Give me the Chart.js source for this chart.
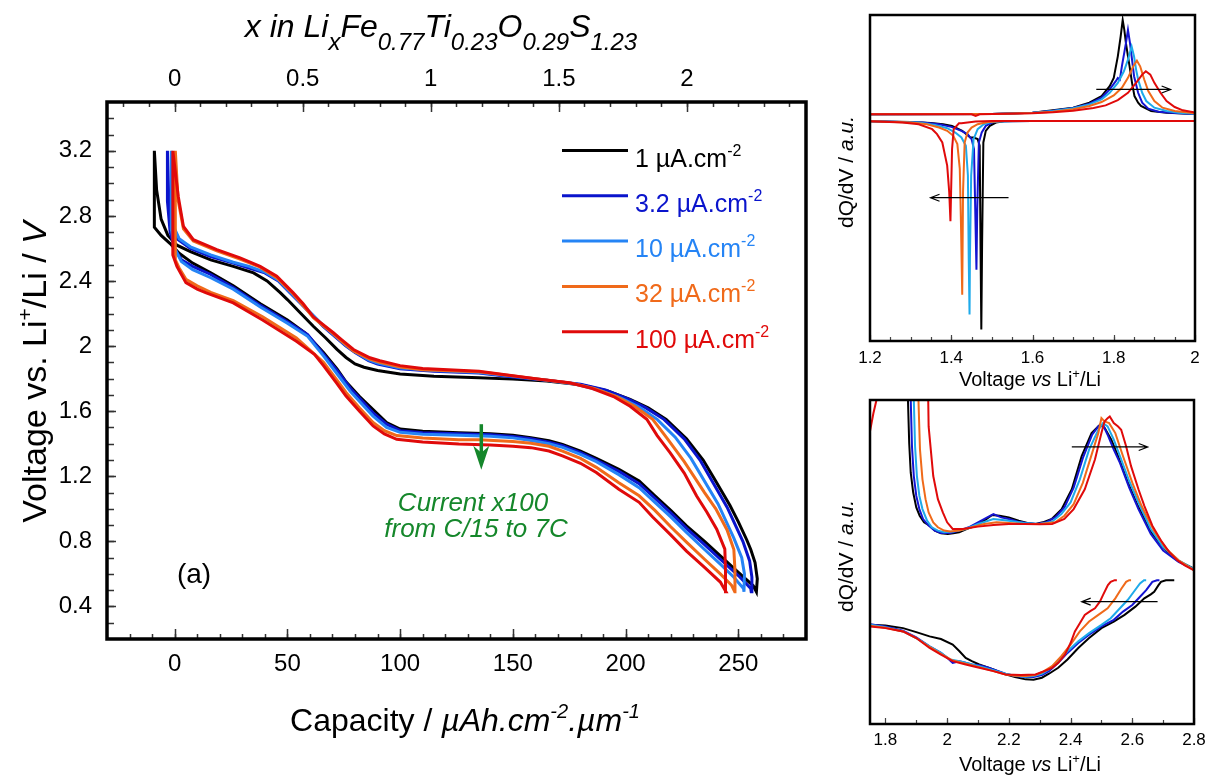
<!DOCTYPE html>
<html>
<head>
<meta charset="utf-8">
<script src="https://cdn.jsdelivr.net/npm/chart.js@4.4.0/dist/chart.umd.min.js"></script>
<style>
body{margin:0;background:#fff}
#wrap{position:relative;width:1214px;height:779px;overflow:hidden}
canvas{position:absolute}
</style>
</head>
<body>
<div id="wrap">
<canvas id="ca" width="830" height="779" style="left:0;top:0"></canvas>
<canvas id="cb" width="384" height="395" style="left:830px;top:0"></canvas>
<canvas id="cc" width="384" height="384" style="left:830px;top:395px"></canvas>
</div>
<script>
const FONT = '"Liberation Sans", Arial, sans-serif'

// legend / series
const seriesLabels = ["1 µA.cm", "3.2 µA.cm", "10 µA.cm", "32 µA.cm", "100 µA.cm"]
const colorsA = ["#000000", "#0a14cc", "#2584f5", "#f06a1a", "#e00a0a"]
const colorsBC = ["#000000", "#1414d2", "#1eaaea", "#f06a1a", "#e00a0a"]

// panel (a) axes
const capTicks = [0, 50, 100, 150, 200, 250]
const liTicks = [0, 0.5, 1, 1.5, 2]
const voltTicks = [0.4, 0.8, 1.2, 1.6, 2, 2.4, 2.8, 3.2]
const capPerLi = 113.6

// panel (a) : [capacity, voltage] discharge then charge, per current
const dis1 = [[-9,3.2],[-9,2.73],[-6,2.68],[-2,2.63],[2,2.57],[8,2.51],[16,2.45],[26,2.37],[38,2.26],[50,2.16],[58,2.08],[66,1.96],[72,1.86],[76,1.78],[82,1.69],[88,1.61],[94,1.53],[100,1.49],[110,1.476],[126,1.468],[140,1.462],[150,1.452],[158,1.437],[166,1.418],[172,1.396],[180,1.355],[187,1.31],[197,1.243],[206,1.171],[213,1.079],[220,0.99],[227,0.895],[235,0.8],[242,0.711],[250,0.61],[256.6,0.527],[258,0.49]]
const cha1 = [[258.4,0.57],[257.4,0.67],[255.5,0.75],[253.7,0.81],[250,0.92],[246.3,1.02],[240,1.17],[234.4,1.3],[227,1.43],[218,1.55],[210,1.62],[202,1.672],[192,1.725],[180,1.762],[165,1.785],[150,1.797],[135,1.806],[115,1.815],[100,1.828],[90,1.85],[84,1.87],[80,1.89],[76,1.93],[72,1.98],[67,2.05],[61.5,2.122],[56,2.2],[50,2.286],[46.7,2.33],[41,2.4],[35,2.45],[26,2.49],[16,2.53],[7,2.58],[1,2.62],[-3,2.68],[-6,2.78],[-8,2.96],[-9,3.2]]
const dis2 = [[-3.2,3.2],[-3.2,2.89],[-2,2.7],[0,2.6],[3,2.53],[8,2.49],[16,2.44],[26,2.36],[38,2.25],[50,2.15],[59,2.07],[66,1.95],[72,1.85],[78,1.74],[88,1.59],[94,1.52],[100,1.48],[110,1.468],[126,1.461],[140,1.455],[150,1.445],[158,1.43],[166,1.41],[172,1.388],[180,1.345],[187,1.3],[197,1.23],[206,1.155],[213,1.065],[220,0.975],[227,0.88],[235,0.78],[242,0.69],[250,0.59],[255.5,0.51],[255.7,0.49]]
const cha2 = [[256,0.58],[255,0.68],[252,0.8],[245,1.01],[233,1.3],[226,1.43],[217,1.55],[209,1.62],[201,1.675],[191,1.73],[180,1.765],[165,1.79],[150,1.81],[135,1.835],[115,1.845],[100,1.86],[90,1.89],[86,1.91],[80,1.96],[76,2.0],[71,2.06],[66,2.12],[61,2.19],[56,2.26],[51,2.33],[46,2.4],[40,2.45],[33,2.48],[26,2.51],[16,2.55],[7,2.6],[1,2.66],[-1,2.72],[-2.5,2.85],[-3.2,3.2]]
const dis3 = [[-1.5,3.2],[-1.5,2.72],[0,2.6],[3,2.52],[8,2.47],[16,2.42],[26,2.35],[38,2.24],[50,2.14],[59,2.06],[66,1.94],[72,1.83],[78,1.72],[88,1.57],[94,1.5],[100,1.47],[110,1.458],[126,1.452],[140,1.446],[150,1.436],[158,1.42],[166,1.4],[172,1.378],[180,1.335],[187,1.29],[197,1.21],[206,1.13],[213,1.04],[220,0.95],[227,0.855],[235,0.75],[242,0.66],[248,0.58],[252.3,0.51],[252.5,0.49]]
const cha3 = [[252.7,0.6],[251.5,0.7],[248,0.82],[241,1.03],[229,1.31],[222,1.44],[214,1.55],[206,1.625],[198,1.68],[188,1.73],[178,1.765],[165,1.79],[150,1.815],[135,1.838],[115,1.85],[100,1.866],[90,1.895],[86,1.915],[80,1.965],[76,2.005],[71,2.065],[66,2.125],[61,2.195],[56,2.265],[51,2.335],[46,2.405],[40,2.455],[33,2.49],[26,2.515],[16,2.56],[7,2.61],[2,2.66],[0,2.72],[-1,2.85],[-1.5,3.2]]
const dis4 = [[0.3,3.2],[0.3,2.53],[2,2.48],[5,2.41],[10,2.37],[16,2.33],[26,2.28],[39,2.18],[54,2.05],[62,1.95],[66,1.9],[72,1.79],[76,1.715],[82,1.62],[88,1.53],[93,1.48],[98.5,1.45],[110,1.435],[126,1.425],[135,1.424],[150,1.413],[158,1.403],[166,1.384],[172,1.355],[180,1.31],[187,1.255],[197,1.16],[206,1.08],[213,0.99],[220,0.89],[227,0.795],[235,0.69],[242,0.6],[247,0.53],[248.4,0.49]]
const cha4 = [[248.5,0.62],[248,0.75],[245,0.87],[240,1.0],[235,1.1],[226,1.29],[218,1.44],[212,1.55],[204,1.63],[196,1.69],[186,1.74],[176,1.772],[160,1.8],[135,1.842],[110,1.855],[100,1.872],[91,1.9],[86.6,1.92],[79.3,1.97],[74,2.03],[70.4,2.075],[66,2.125],[61.5,2.175],[57,2.25],[52.6,2.32],[45.3,2.42],[37.9,2.485],[29,2.535],[18.7,2.585],[8.3,2.645],[3.9,2.72],[1.5,2.9],[0.3,3.2]]
const dis5 = [[-0.8,3.2],[-0.8,2.56],[1,2.49],[5,2.39],[10,2.35],[14,2.327],[26,2.265],[39,2.16],[54,2.03],[62,1.95],[66,1.88],[72,1.77],[76,1.693],[82,1.6],[88,1.509],[93,1.46],[98.5,1.427],[110,1.41],[126,1.398],[140,1.392],[150,1.385],[158,1.376],[166,1.355],[172,1.325],[180,1.28],[187,1.223],[197,1.12],[206,1.04],[212,0.95],[220,0.84],[227,0.74],[235,0.64],[242,0.55],[244.5,0.49]]
const cha5 = [[244.3,0.62],[244,0.752],[240.4,0.875],[236,0.98],[231.5,1.079],[226,1.22],[219.7,1.345],[214,1.45],[209.4,1.55],[202,1.63],[194.6,1.69],[185,1.74],[175,1.775],[160,1.8],[135,1.846],[110,1.862],[100,1.88],[91,1.91],[86.6,1.928],[79.3,1.979],[74,2.04],[70.4,2.082],[66,2.13],[61.5,2.18],[57,2.26],[52.6,2.327],[45.3,2.429],[37.9,2.49],[29,2.542],[18.7,2.593],[8.3,2.654],[3.9,2.735],[1.6,2.92],[-0.8,3.2]]

// panel (b) : dQ/dV around the plateaus [V, a.u.]
const voltTicksB = [1.2, 1.4, 1.6, 1.8, 2]
const chgB1 = [[1.2,6.85],[1.5,6.86],[1.6,6.9],[1.65,6.97],[1.7,7.05],[1.74,7.2],[1.77,7.4],[1.79,7.7],[1.8,7.95],[1.81,8.6],[1.817,9.2],[1.822,9.7],[1.826,9.4],[1.83,9.0],[1.835,8.6],[1.839,8.3],[1.845,7.8],[1.851,7.4],[1.86,7.2],[1.867,7.1],[1.892,6.95],[1.93,6.9],[2.0,6.86]]
const chgB2 = [[1.2,6.85],[1.5,6.86],[1.6,6.9],[1.65,6.96],[1.7,7.04],[1.74,7.17],[1.77,7.35],[1.79,7.6],[1.805,7.85],[1.81,7.95],[1.815,7.9],[1.82,8.3],[1.83,9.0],[1.835,9.4],[1.84,9.0],[1.845,8.5],[1.85,8.0],[1.86,7.5],[1.87,7.2],[1.885,7.02],[1.91,6.93],[1.95,6.89],[2.0,6.86]]
const chgB3 = [[1.2,6.85],[1.5,6.86],[1.6,6.9],[1.65,6.95],[1.7,7.03],[1.74,7.15],[1.77,7.3],[1.79,7.5],[1.81,7.8],[1.825,8.15],[1.835,8.5],[1.844,8.9],[1.85,8.6],[1.855,8.2],[1.86,7.9],[1.87,7.5],[1.88,7.25],[1.9,7.05],[1.93,6.95],[1.96,6.9],[2.0,6.87]]
const chgB4 = [[1.2,6.85],[1.5,6.86],[1.6,6.89],[1.65,6.93],[1.7,7.0],[1.74,7.1],[1.77,7.22],[1.8,7.42],[1.82,7.65],[1.835,7.95],[1.848,8.3],[1.857,8.47],[1.865,8.3],[1.875,7.9],[1.885,7.55],[1.9,7.25],[1.92,7.05],[1.95,6.95],[2.0,6.88]]
const chgB5 = [[1.2,6.85],[1.45,6.85],[1.46,6.8],[1.47,6.85],[1.6,6.88],[1.65,6.91],[1.7,6.96],[1.75,7.04],[1.78,7.12],[1.81,7.28],[1.835,7.5],[1.855,7.8],[1.87,8.05],[1.879,8.15],[1.89,8.05],[1.9,7.8],[1.915,7.5],[1.93,7.25],[1.95,7.07],[1.97,6.97],[2.0,6.9]]
const disB1 = [[2.0,6.65],[1.6,6.65],[1.53,6.64],[1.51,6.6],[1.495,6.5],[1.485,6.35],[1.479,6.0],[1.476,3.0],[1.474,0.35],[1.472,3.0],[1.47,5.9],[1.465,6.1],[1.455,6.15],[1.447,6.15],[1.427,6.35],[1.402,6.5],[1.38,6.55],[1.35,6.59],[1.3,6.62],[1.2,6.64]]
const disB2 = [[2.0,6.65],[1.6,6.65],[1.52,6.64],[1.5,6.6],[1.485,6.5],[1.475,6.3],[1.468,6.0],[1.464,4.0],[1.462,2.15],[1.459,4.0],[1.456,5.8],[1.45,6.1],[1.44,6.25],[1.425,6.35],[1.4,6.47],[1.37,6.55],[1.33,6.6],[1.2,6.64]]
const disB3 = [[2.0,6.65],[1.55,6.65],[1.5,6.62],[1.48,6.55],[1.465,6.4],[1.455,6.1],[1.449,5.0],[1.446,2.5],[1.445,0.8],[1.443,2.5],[1.441,5.0],[1.436,5.9],[1.425,6.15],[1.41,6.3],[1.39,6.43],[1.36,6.53],[1.32,6.6],[1.2,6.64]]
const disB4 = [[2.0,6.65],[1.53,6.65],[1.49,6.62],[1.465,6.55],[1.45,6.45],[1.44,6.3],[1.433,6.0],[1.429,4.5],[1.427,1.4],[1.424,3.5],[1.421,5.2],[1.415,5.95],[1.405,6.2],[1.39,6.35],[1.37,6.45],[1.34,6.55],[1.3,6.6],[1.2,6.64]]
const disB5 = [[2.0,6.65],[1.5,6.65],[1.46,6.63],[1.44,6.6],[1.425,6.58],[1.419,6.58],[1.406,6.4],[1.402,5.8],[1.398,3.62],[1.395,4.5],[1.39,5.3],[1.378,6.0],[1.365,6.25],[1.353,6.4],[1.32,6.55],[1.28,6.6],[1.2,6.64]]

// panel (c) : dQ/dV, zoom on the sloping parts [V, a.u.]
const voltTicksC = [1.8, 2, 2.2, 2.4, 2.6, 2.8]
const chgC1 = [[1.871,12],[1.873,9.8],[1.877,8.5],[1.882,7.6],[1.89,7.0],[1.9,6.55],[1.911,6.3],[1.925,6.1],[1.943,6.0],[1.96,5.85],[1.98,5.77],[2.002,5.75],[2.02,5.77],[2.039,5.8],[2.065,5.9],[2.093,6.0],[2.12,6.15],[2.146,6.32],[2.17,6.3],[2.2,6.25],[2.232,6.15],[2.26,6.08],[2.286,6.05],[2.31,6.1],[2.339,6.2],[2.371,6.5],[2.404,7.1],[2.436,8.1],[2.468,8.8],[2.495,9.05],[2.511,8.95],[2.532,8.6],[2.554,8.1],[2.586,7.3],[2.618,6.6],[2.661,5.8],[2.704,5.3],[2.746,4.95],[2.8,4.7]]
const chgC2 = [[1.88,12],[1.882,9.8],[1.886,8.4],[1.892,7.5],[1.9,6.9],[1.91,6.5],[1.922,6.2],[1.94,6.0],[1.96,5.85],[1.98,5.78],[2.01,5.78],[2.04,5.85],[2.07,5.95],[2.1,6.1],[2.13,6.25],[2.15,6.35],[2.175,6.25],[2.2,6.2],[2.23,6.12],[2.26,6.07],[2.29,6.05],[2.32,6.1],[2.35,6.25],[2.38,6.55],[2.41,7.15],[2.44,8.05],[2.47,8.75],[2.49,9.0],[2.505,9.05],[2.52,8.75],[2.54,8.3],[2.56,7.9],[2.59,7.15],[2.62,6.5],[2.66,5.75],[2.7,5.25],[2.75,4.9],[2.8,4.68]]
const chgC3 = [[1.89,12],[1.892,9.8],[1.896,8.4],[1.902,7.5],[1.91,6.9],[1.92,6.5],[1.935,6.15],[1.95,5.95],[1.97,5.85],[1.99,5.8],[2.02,5.82],[2.06,5.9],[2.1,6.05],[2.15,6.2],[2.2,6.15],[2.25,6.08],[2.3,6.05],[2.34,6.12],[2.37,6.35],[2.4,6.7],[2.43,7.4],[2.46,8.3],[2.49,8.9],[2.505,9.1],[2.52,9.0],[2.54,8.6],[2.56,8.1],[2.59,7.35],[2.62,6.7],[2.66,5.9],[2.7,5.35],[2.75,4.95],[2.8,4.68]]
const chgC4 = [[1.905,12],[1.907,9.8],[1.912,8.3],[1.92,7.4],[1.93,6.8],[1.94,6.4],[1.955,6.1],[1.97,5.95],[1.99,5.85],[2.01,5.82],[2.04,5.85],[2.08,5.95],[2.12,6.05],[2.16,6.1],[2.2,6.08],[2.25,6.05],[2.3,6.05],[2.35,6.1],[2.38,6.3],[2.41,6.65],[2.44,7.3],[2.47,8.2],[2.49,8.8],[2.5,9.25],[2.51,9.15],[2.525,9.1],[2.545,8.8],[2.57,8.1],[2.6,7.3],[2.63,6.6],[2.67,5.85],[2.71,5.3],[2.75,4.95],[2.8,4.65]]
const chgC5 = [[1.75,8.85],[1.761,9.4],[1.771,9.8],[1.776,12],[1.935,12],[1.94,9.0],[1.955,7.5],[1.97,6.8],[1.986,6.4],[2.0,6.1],[2.018,5.9],[2.05,5.9],[2.1,5.97],[2.15,6.02],[2.2,6.05],[2.25,6.05],[2.3,6.04],[2.34,6.05],[2.38,6.2],[2.41,6.5],[2.446,7.1],[2.479,8.0],[2.5,8.8],[2.51,9.15],[2.52,9.25],[2.527,9.3],[2.54,9.1],[2.554,9.0],[2.564,8.9],[2.58,8.4],[2.596,7.8],[2.62,7.1],[2.639,6.6],[2.665,6.0],[2.693,5.55],[2.72,5.2],[2.746,4.95],[2.77,4.8],[2.8,4.65]]
const disC1 = [[1.75,3.0],[1.8,2.98],[1.857,2.9],[1.9,2.78],[1.943,2.65],[1.98,2.57],[2.018,2.4],[2.04,2.2],[2.06,2.0],[2.08,1.9],[2.104,1.8],[2.15,1.65],[2.189,1.5],[2.22,1.42],[2.254,1.35],[2.28,1.34],[2.307,1.4],[2.33,1.52],[2.36,1.7],[2.39,1.95],[2.425,2.3],[2.46,2.6],[2.5,2.9],[2.54,3.1],[2.575,3.3],[2.61,3.55],[2.639,3.8],[2.66,3.92],[2.671,4.0],[2.685,4.2],[2.693,4.3],[2.709,4.35],[2.736,4.35]]
const disC2 = [[1.75,3.02],[1.8,2.95],[1.857,2.82],[1.9,2.62],[1.943,2.35],[1.98,2.15],[2.0,2.0],[2.018,1.85],[2.04,1.9],[2.06,1.85],[2.08,1.8],[2.104,1.78],[2.13,1.72],[2.15,1.65],[2.189,1.52],[2.22,1.45],[2.254,1.42],[2.28,1.42],[2.307,1.48],[2.33,1.6],[2.36,1.85],[2.39,2.15],[2.425,2.45],[2.46,2.7],[2.5,2.95],[2.54,3.15],[2.57,3.4],[2.6,3.6],[2.625,3.85],[2.645,4.05],[2.665,4.3],[2.68,4.35],[2.688,4.35]]
const disC3 = [[1.75,3.0],[1.8,2.93],[1.857,2.8],[1.9,2.6],[1.943,2.35],[1.98,2.15],[2.01,1.95],[2.04,1.9],[2.06,1.85],[2.104,1.75],[2.15,1.63],[2.189,1.52],[2.22,1.46],[2.254,1.43],[2.28,1.45],[2.307,1.52],[2.33,1.65],[2.36,1.9],[2.39,2.2],[2.425,2.5],[2.46,2.75],[2.5,3.0],[2.53,3.2],[2.56,3.5],[2.585,3.75],[2.605,4.0],[2.625,4.25],[2.638,4.35],[2.645,4.35]]
const disC4 = [[1.75,2.97],[1.8,2.91],[1.857,2.8],[1.9,2.6],[1.943,2.33],[1.98,2.12],[2.018,1.92],[2.06,1.82],[2.104,1.72],[2.15,1.6],[2.189,1.5],[2.22,1.46],[2.254,1.45],[2.286,1.48],[2.31,1.58],[2.34,1.75],[2.37,2.05],[2.4,2.4],[2.43,2.8],[2.46,3.1],[2.49,3.3],[2.52,3.5],[2.545,3.8],[2.565,4.1],[2.58,4.3],[2.59,4.35],[2.596,4.35]]
const disC5 = [[1.75,2.95],[1.8,2.9],[1.857,2.8],[1.9,2.6],[1.943,2.3],[1.98,2.1],[2.018,1.9],[2.06,1.8],[2.104,1.7],[2.15,1.6],[2.189,1.5],[2.24,1.48],[2.286,1.5],[2.31,1.58],[2.34,1.7],[2.36,1.85],[2.382,2.1],[2.4,2.45],[2.414,2.8],[2.43,3.05],[2.446,3.3],[2.465,3.42],[2.479,3.5],[2.495,3.7],[2.505,3.9],[2.521,4.2],[2.53,4.3],[2.543,4.35],[2.55,4.35]]

// arrows in data units: [x1, y1, x2, y2]
const arrowA = [136, 1.52, 136, 1.24]
const arrowsB = [[1.757, 7.6, 1.94, 7.6], [1.541, 4.33, 1.349, 4.33]]
const arrowsC = [[2.404, 8.38, 2.65, 8.38], [2.682, 3.7, 2.436, 3.7]]

const N = s => s + "px " + FONT
const I = s => "italic " + s + "px " + FONT

function rich(ctx, parts, x, y, align) {
    let w = 0
    parts.forEach(p => { ctx.font = p[1]; w += ctx.measureText(p[0]).width })
    let cx = align == "center" ? x - w / 2 : x
    ctx.textAlign = "left"
    ctx.textBaseline = "alphabetic"
    parts.forEach(p => {
        ctx.font = p[1]
        ctx.fillText(p[0], cx, y + (p[2] || 0))
        cx += ctx.measureText(p[0]).width
    })
}

function richUp(ctx, parts, x, y) {
    ctx.save()
    ctx.translate(x, y)
    ctx.rotate(-Math.PI / 2)
    rich(ctx, parts, 0, 0, "center")
    ctx.restore()
}

function steps(a, b, s) {
    const out = []
    for (let v = a; v <= b + 1e-9; v += s) out.push(+v.toFixed(3))
    return out
}

function inTicks(ctx, scale, area, values, len, side) {
    ctx.beginPath()
    values.forEach(v => {
        const p = Math.round(scale.getPixelForValue(v)) + 0.5
        if (side == "bottom") { ctx.moveTo(p, area.bottom); ctx.lineTo(p, area.bottom - len) }
        if (side == "top") { ctx.moveTo(p, area.top); ctx.lineTo(p, area.top + len) }
        if (side == "left") { ctx.moveTo(area.left, p); ctx.lineTo(area.left + len, p) }
    })
    ctx.stroke()
}

function arrowLine(ctx, x1, y1, x2, y2, head, half) {
    const a = Math.atan2(y2 - y1, x2 - x1)
    ctx.beginPath()
    ctx.moveTo(x1, y1); ctx.lineTo(x2, y2)
    ctx.moveTo(x2 - head * Math.cos(a) + half * Math.sin(a), y2 - head * Math.sin(a) - half * Math.cos(a))
    ctx.lineTo(x2, y2)
    ctx.lineTo(x2 - head * Math.cos(a) - half * Math.sin(a), y2 - head * Math.sin(a) + half * Math.cos(a))
    ctx.stroke()
}

function setTicks(list) {
    return s => { s.ticks = list.map(v => ({ value: v })) }
}
const fmt = v => String(Math.round(v * 100) / 100)

const decorA = {
    id: "decorA",
    afterDraw(chart) {
        const ctx = chart.ctx, area = chart.chartArea, sc = chart.scales
        ctx.save()
        ctx.strokeStyle = "#333"
        ctx.lineWidth = 1.5
        inTicks(ctx, sc.x, area, steps(-20, 270, 10), 5, "bottom")
        inTicks(ctx, sc.x, area, capTicks, 10, "bottom")
        inTicks(ctx, sc.x2, area, steps(-0.2, 2.4, 0.1), 5, "top")
        inTicks(ctx, sc.x2, area, liTicks, 10, "top")
        inTicks(ctx, sc.y, area, steps(0.3, 3.4, 0.1), 7, "left")
        inTicks(ctx, sc.y, area, voltTicks, 9, "left")
        ctx.strokeStyle = "#000"
        ctx.lineWidth = 3.5
        ctx.strokeRect(area.left, area.top, area.right - area.left, area.bottom - area.top)

        ctx.fillStyle = "#000"
        rich(ctx, [["x in Li", I(32)], ["x", I(24), 13], ["Fe", I(32)], ["0.77", I(24), 13], ["Ti", I(32)], ["0.23", I(24), 13], ["O", I(32)], ["0.29", I(24), 13], ["S", I(32)], ["1.23", I(24), 13]], 441, 37, "center")
        rich(ctx, [["Capacity / ", N(32)], ["µAh.cm", I(32)], ["-2", I(20), -13], [".µm", I(32)], ["-1", I(20), -13]], 465, 731, "center")
        richUp(ctx, [["Voltage vs. Li", N(34)], ["+", N(21), -14], ["/Li / ", N(34)], ["V", I(34)]], 46, 372)
        rich(ctx, [["(a)", N(28)]], 194, 583, "center")

        // legend
        seriesLabels.forEach((lab, i) => {
            const y = 150.5 + i * 45.3
            ctx.strokeStyle = colorsA[i]
            ctx.lineWidth = 3
            ctx.beginPath(); ctx.moveTo(562, y); ctx.lineTo(628, y); ctx.stroke()
            ctx.fillStyle = colorsA[i]
            rich(ctx, [[lab, N(25)], ["-2", N(16), -11]], 635, y + 16, "left")
        })

        // current arrow + note
        const gx = sc.x.getPixelForValue(arrowA[0])
        const gy1 = sc.y.getPixelForValue(arrowA[1]), gy2 = sc.y.getPixelForValue(arrowA[3])
        ctx.strokeStyle = "#15872b"
        ctx.fillStyle = "#15872b"
        ctx.lineWidth = 3.5
        ctx.beginPath(); ctx.moveTo(gx, gy1); ctx.lineTo(gx, gy2 - 14); ctx.stroke()
        ctx.beginPath()
        ctx.moveTo(gx, gy2); ctx.lineTo(gx - 8, gy2 - 24); ctx.lineTo(gx, gy2 - 17); ctx.lineTo(gx + 8, gy2 - 24)
        ctx.closePath(); ctx.fill()
        rich(ctx, [["Current x100", I(26)]], 473, 511, "center")
        rich(ctx, [["from C/15 to 7C", I(26)]], 476, 537, "center")
        ctx.restore()
    }
}

function decorSmall(name, minor, major, arrows, label, yTitleY, xTitleY) {
    return {
        id: "decor" + name,
        afterDraw(chart) {
            const ctx = chart.ctx, area = chart.chartArea, sc = chart.scales
            ctx.save()
            ctx.strokeStyle = "#444"
            ctx.lineWidth = 1.2
            inTicks(ctx, sc.x, area, minor, 4, "bottom")
            inTicks(ctx, sc.x, area, major, 6, "bottom")
            ctx.strokeStyle = "#000"
            ctx.lineWidth = 2.5
            ctx.strokeRect(area.left, area.top, area.right - area.left, area.bottom - area.top)
            ctx.lineWidth = 1.2
            arrows.forEach(a => {
                arrowLine(ctx, sc.x.getPixelForValue(a[0]), sc.y.getPixelForValue(a[1]),
                    sc.x.getPixelForValue(a[2]), sc.y.getPixelForValue(a[3]), 9, 3.5)
            })
            ctx.fillStyle = "#000"
            rich(ctx, [["Voltage ", N(20)], ["vs", I(20)], [" Li", N(20)], ["+", N(13), -8], ["/Li", N(20)]], 200, xTitleY, "center")
            richUp(ctx, [["dQ/dV / ", N(21)], ["a.u.", I(21)]], 23, yTitleY)
            rich(ctx, [label], label[2], label[3], "center")
            ctx.restore()
        }
    }
}

function loop(d, c) { return d.concat(c).map(p => ({ x: p[0], y: p[1] })) }
function pts(a) { return a.map(p => ({ x: p[0], y: p[1] })) }

const line = (data, color, w, i) => ({
    data: data, showLine: true, borderColor: color, borderWidth: w,
    pointRadius: 0, tension: 0, order: 4 - i, fill: false
})

const tickFont = s => ({ family: FONT, size: s })

// panel (a)
const loopsA = [loop(dis1, cha1), loop(dis2, cha2), loop(dis3, cha3), loop(dis4, cha4), loop(dis5, cha5)]
new Chart(document.getElementById("ca"), {
    type: "scatter",
    data: { datasets: loopsA.map((d, i) => line(d, colorsA[i], 3, i)) },
    options: {
        responsive: false, animation: false, events: [],
        layout: { padding: { left: 0, right: 24, top: 0, bottom: 0 } },
        plugins: { legend: { display: false }, tooltip: { enabled: false } },
        scales: {
            x: {
                type: "linear", position: "bottom", min: -30, max: 280,
                afterFit: s => { s.height = 140 }, afterBuildTicks: setTicks(capTicks),
                grid: { display: false, drawTicks: false }, border: { display: false },
                ticks: { font: tickFont(24), color: "#000", padding: 11, maxRotation: 0, autoSkip: false, callback: fmt }
            },
            x2: {
                type: "linear", position: "top", min: -30 / capPerLi, max: 280 / capPerLi,
                afterFit: s => { s.height = 102 }, afterBuildTicks: setTicks(liTicks),
                grid: { display: false, drawTicks: false }, border: { display: false },
                ticks: { font: tickFont(24), color: "#000", padding: 8, maxRotation: 0, autoSkip: false, callback: fmt }
            },
            y: {
                type: "linear", position: "left", min: 0.2, max: 3.5,
                afterFit: s => { s.width = 107 }, afterBuildTicks: setTicks(voltTicks),
                grid: { display: false, drawTicks: false }, border: { display: false },
                ticks: { font: tickFont(24), color: "#000", padding: 15, autoSkip: false, callback: fmt }
            }
        }
    },
    plugins: [decorA]
})

// panel (b)
const setB = [[chgB1, disB1], [chgB2, disB2], [chgB3, disB3], [chgB4, disB4], [chgB5, disB5]]
const dsB = []
setB.forEach((s, i) => { dsB.push(line(pts(s[0]), colorsBC[i], 2, i)); dsB.push(line(pts(s[1]), colorsBC[i], 2, i)) })
new Chart(document.getElementById("cb"), {
    type: "scatter",
    data: { datasets: dsB },
    options: {
        responsive: false, animation: false, events: [],
        layout: { padding: { left: 40, right: 19, top: 15, bottom: 0 } },
        plugins: { legend: { display: false }, tooltip: { enabled: false } },
        scales: {
            x: {
                type: "linear", min: 1.2, max: 2.0,
                afterFit: s => { s.height = 54 }, afterBuildTicks: setTicks(voltTicksB),
                grid: { display: false, drawTicks: false }, border: { display: false },
                ticks: { font: tickFont(17), color: "#000", padding: 7, maxRotation: 0, autoSkip: false, callback: fmt }
            },
            y: { type: "linear", min: 0, max: 9.85, display: false }
        }
    },
    plugins: [decorSmall("B", steps(1.25, 1.95, 0.05), voltTicksB, arrowsB, ["(b)", N(28), 326, 322], 172, 386)]
})

// panel (c)
const setC = [[chgC1, disC1], [chgC2, disC2], [chgC3, disC3], [chgC4, disC4], [chgC5, disC5]]
const dsC = []
setC.forEach((s, i) => { dsC.push(line(pts(s[0]), colorsBC[i], 2, i)); dsC.push(line(pts(s[1]), colorsBC[i], 2, i)) })
new Chart(document.getElementById("cc"), {
    type: "scatter",
    data: { datasets: dsC },
    options: {
        responsive: false, animation: false, events: [],
        layout: { padding: { left: 40, right: 20, top: 5, bottom: 0 } },
        plugins: { legend: { display: false }, tooltip: { enabled: false } },
        scales: {
            x: {
                type: "linear", min: 1.75, max: 2.8,
                afterFit: s => { s.height = 55 }, afterBuildTicks: setTicks(voltTicksC),
                grid: { display: false, drawTicks: false }, border: { display: false },
                ticks: { font: tickFont(17), color: "#000", padding: 6, maxRotation: 0, autoSkip: false, callback: fmt }
            },
            y: { type: "linear", min: 0, max: 9.8, display: false }
        }
    },
    plugins: [decorSmall("C", steps(1.9, 2.7, 0.1), voltTicksC, arrowsC, ["(c)", N(28), 318, 300], 161, 376)]
})
</script>
</body>
</html>
